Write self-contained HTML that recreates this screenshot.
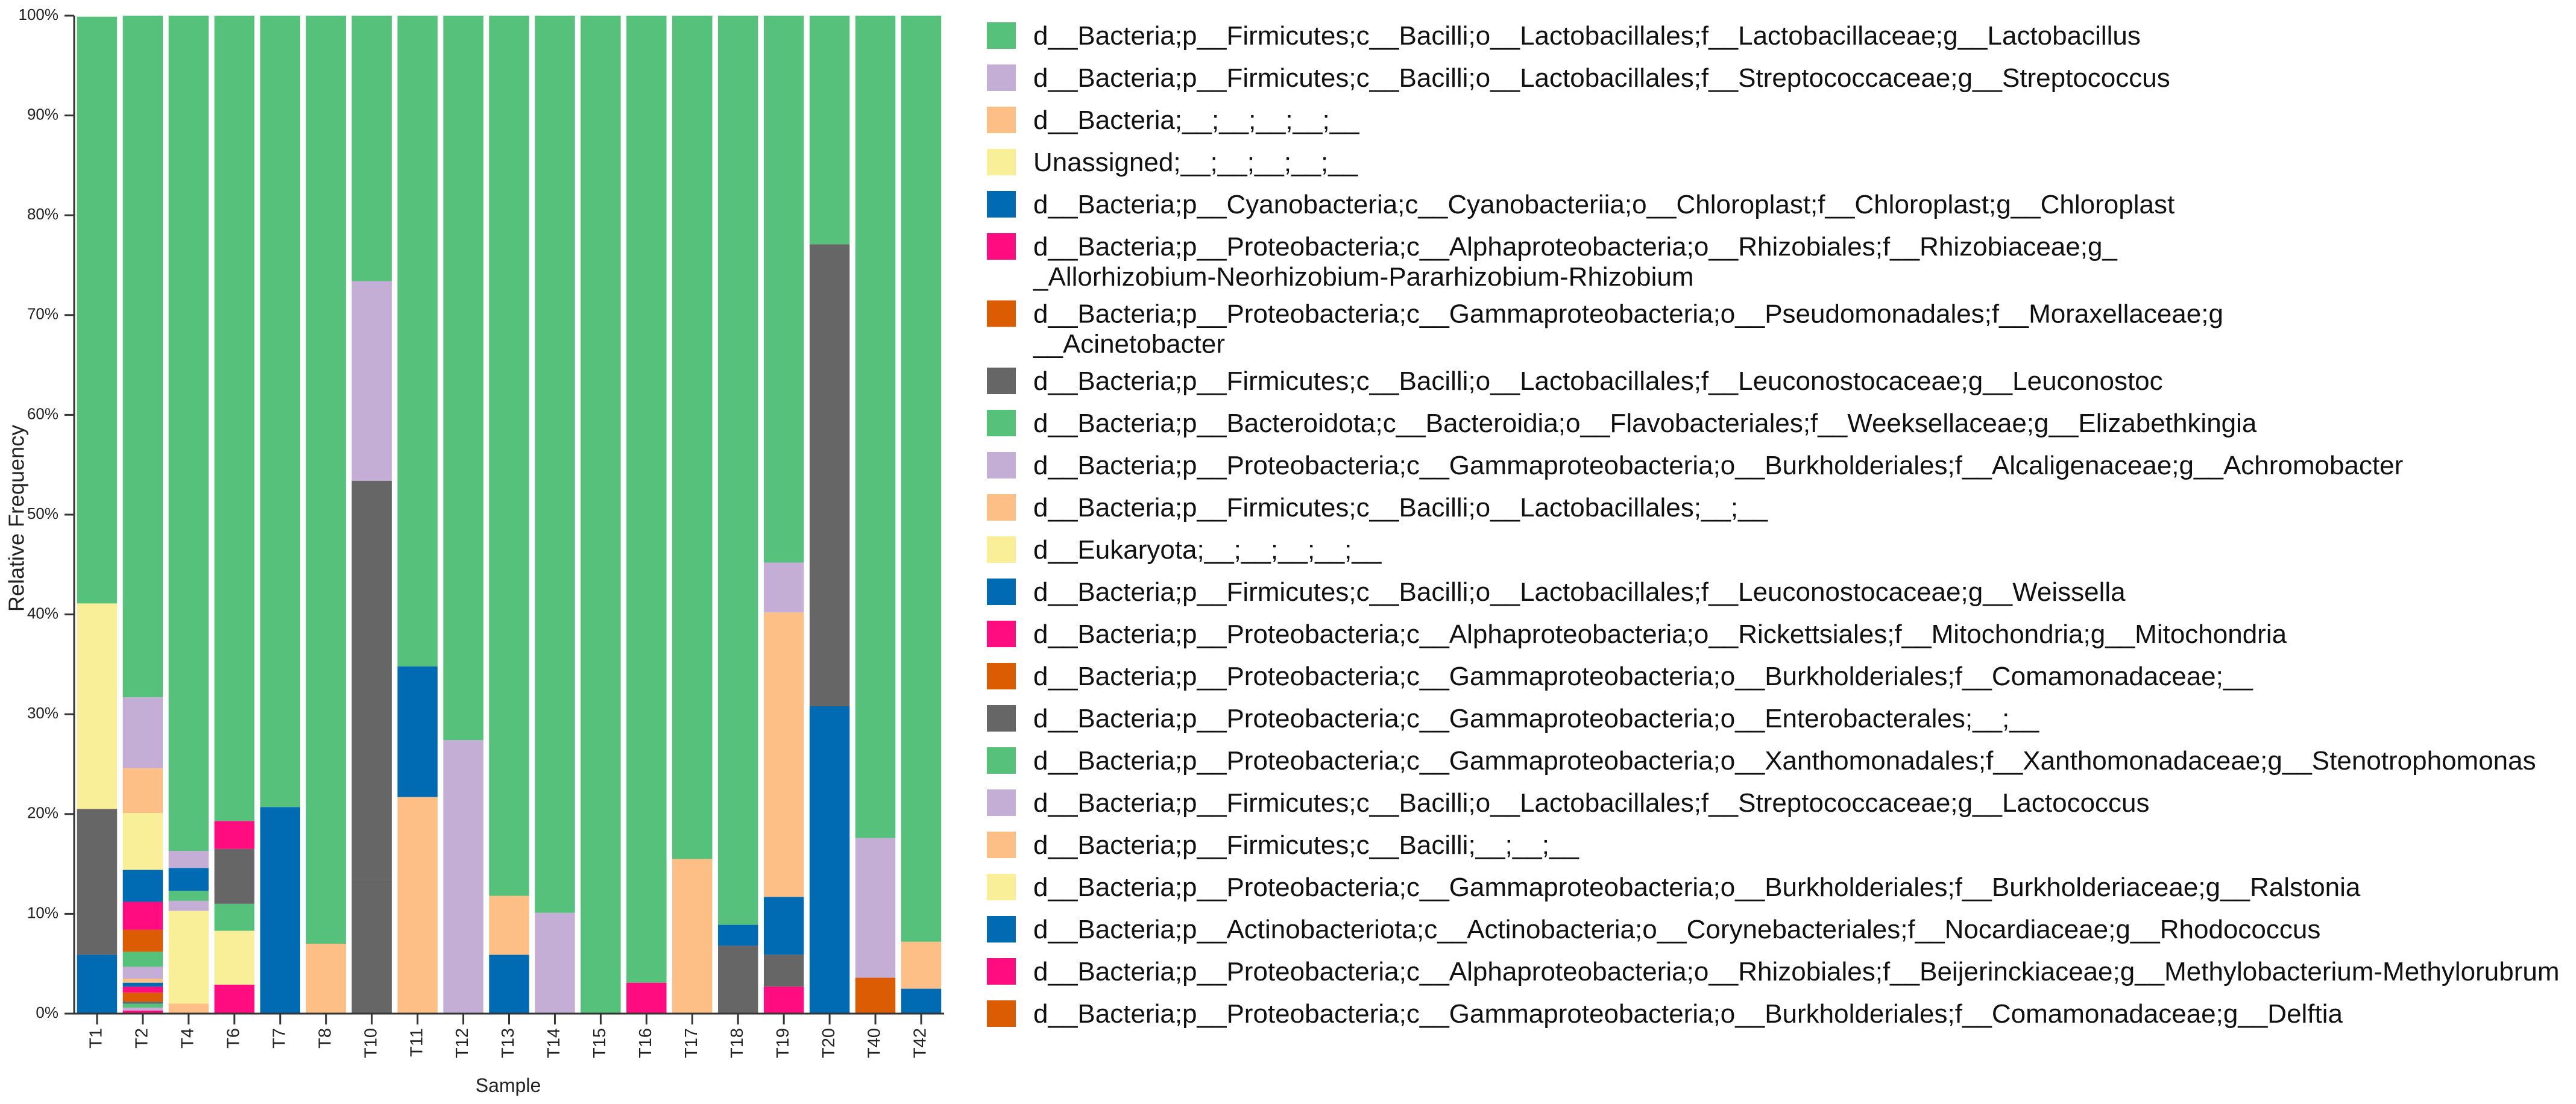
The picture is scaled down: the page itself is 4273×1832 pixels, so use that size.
<!DOCTYPE html>
<html><head><meta charset="utf-8">
<style>
html,body{margin:0;padding:0;background:#fff;}
svg{display:block;font-family:"Liberation Sans",Arial,sans-serif;}
</style></head>
<body>
<svg id="chart" width="4273" height="1832" viewBox="0 0 4273 1832" xmlns="http://www.w3.org/2000/svg">
<g id="bars"></g>
<g id="axes"></g>
<g id="legend"></g>
<text x="30" y="860" transform="rotate(-90 30 860)" text-anchor="middle" dominant-baseline="middle" font-size="36" fill="#222">Relative Frequency</text>
<text x="843" y="1812" text-anchor="middle" font-size="32" fill="#222">Sample</text>
</svg>
<script>
const samples = ["T1","T2","T4","T6","T7","T8","T10","T11","T12","T13","T14","T15","T16","T17","T18","T19","T20","T40","T42"];
const yTicks = [0,10,20,30,40,50,60,70,80,90,100];
const yTickLabels = ["0%","10%","20%","30%","40%","50%","60%","70%","80%","90%","100%"];
const lactobacillus   = [58.8,68.3,83.7,80.7,79.3,93.0,26.6,65.2,72.6,88.2,89.9,100,96.9,84.5,91.1,54.8,22.9,82.4,92.8];
const streptococcus   = [0,7.1,1.7,0,0,0,20.0,0,27.4,0,10.1,0,0,0,0,5.0,0,14.0,0];
const bacteriaUnk     = [0,4.5,0,0,0,7.0,0,0,0,5.9,0,0,0,15.5,0,28.5,0,0,4.7];
const unassigned      = [20.6,5.7,0,0,0,0,0,0,0,0,0,0,0,0,0,0,0,0,0];
const chloroplast     = [0,3.2,2.3,0,20.7,0,0,13.1,0,0,0,0,0,0,2.1,5.8,0,0,2.5];
const rhizobium       = [0,2.8,0,2.8,0,0,0,0,0,0,0,0,3.1,0,0,0,0,0,0];
const acinetobacter   = [0,2.2,0,0,0,0,0,0,0,0,0,0,0,0,0,0,0,3.6,0];
const leuconostoc     = [14.6,0,0,0,0,0,39.9,0,0,0,0,0,0,0,6.8,3.2,46.3,0,0];
const elizabethkingia = [0,1.5,1.0,0,0,0,0,0,0,0,0,0,0,0,0,0,0,0,0];
const achromobacter   = [0,1.2,1.0,0,0,0,0,0,0,0,0,0,0,0,0,0,0,0,0];
const lactobacillales = [0,0.4,0,0,0,0,0,21.7,0,0,0,0,0,0,0,0,0,0,0];
const eukaryota       = [0,0,9.3,0,0,0,0,0,0,0,0,0,0,0,0,0,0,0,0];
const weissella       = [5.9,0.4,0,0,0,0,0,0,0,5.9,0,0,0,0,0,0,30.8,0,0];
const mitochondria    = [0,0.6,0,0,0,0,0,0,0,0,0,0,0,0,0,2.7,0,0,0];
const comamonadaceae  = [0,0.9,0,0,0,0,0,0,0,0,0,0,0,0,0,0,0,0,0];
const enterobacterales= [0,0.2,0,5.5,0,0,13.5,0,0,0,0,0,0,0,0,0,0,0,0];
const stenotrophomonas= [0,0.4,0,2.7,0,0,0,0,0,0,0,0,0,0,0,0,0,0,0];
const lactococcus     = [0,0.3,0,0,0,0,0,0,0,0,0,0,0,0,0,0,0,0,0];
const bacilliUnk      = [0,0,1.0,0,0,0,0,0,0,0,0,0,0,0,0,0,0,0,0];
const ralstonia       = [0,0,0,5.4,0,0,0,0,0,0,0,0,0,0,0,0,0,0,0];
const rhodococcus     = [0,0,0,0,0,0,0,0,0,0,0,0,0,0,0,0,0,0,0];
const methylobacterium= [0,0.3,0,2.9,0,0,0,0,0,0,0,0,0,0,0,0,0,0,0];
const delftia         = [0,0,0,0,0,0,0,0,0,0,0,0,0,0,0,0,0,0,0];
const legendLabels = [
 ["d__Bacteria;p__Firmicutes;c__Bacilli;o__Lactobacillales;f__Lactobacillaceae;g__Lactobacillus"],
 ["d__Bacteria;p__Firmicutes;c__Bacilli;o__Lactobacillales;f__Streptococcaceae;g__Streptococcus"],
 ["d__Bacteria;__;__;__;__;__"],
 ["Unassigned;__;__;__;__;__"],
 ["d__Bacteria;p__Cyanobacteria;c__Cyanobacteriia;o__Chloroplast;f__Chloroplast;g__Chloroplast"],
 ["d__Bacteria;p__Proteobacteria;c__Alphaproteobacteria;o__Rhizobiales;f__Rhizobiaceae;g_","_Allorhizobium-Neorhizobium-Pararhizobium-Rhizobium"],
 ["d__Bacteria;p__Proteobacteria;c__Gammaproteobacteria;o__Pseudomonadales;f__Moraxellaceae;g","__Acinetobacter"],
 ["d__Bacteria;p__Firmicutes;c__Bacilli;o__Lactobacillales;f__Leuconostocaceae;g__Leuconostoc"],
 ["d__Bacteria;p__Bacteroidota;c__Bacteroidia;o__Flavobacteriales;f__Weeksellaceae;g__Elizabethkingia"],
 ["d__Bacteria;p__Proteobacteria;c__Gammaproteobacteria;o__Burkholderiales;f__Alcaligenaceae;g__Achromobacter"],
 ["d__Bacteria;p__Firmicutes;c__Bacilli;o__Lactobacillales;__;__"],
 ["d__Eukaryota;__;__;__;__;__"],
 ["d__Bacteria;p__Firmicutes;c__Bacilli;o__Lactobacillales;f__Leuconostocaceae;g__Weissella"],
 ["d__Bacteria;p__Proteobacteria;c__Alphaproteobacteria;o__Rickettsiales;f__Mitochondria;g__Mitochondria"],
 ["d__Bacteria;p__Proteobacteria;c__Gammaproteobacteria;o__Burkholderiales;f__Comamonadaceae;__"],
 ["d__Bacteria;p__Proteobacteria;c__Gammaproteobacteria;o__Enterobacterales;__;__"],
 ["d__Bacteria;p__Proteobacteria;c__Gammaproteobacteria;o__Xanthomonadales;f__Xanthomonadaceae;g__Stenotrophomonas"],
 ["d__Bacteria;p__Firmicutes;c__Bacilli;o__Lactobacillales;f__Streptococcaceae;g__Lactococcus"],
 ["d__Bacteria;p__Firmicutes;c__Bacilli;__;__;__"],
 ["d__Bacteria;p__Proteobacteria;c__Gammaproteobacteria;o__Burkholderiales;f__Burkholderiaceae;g__Ralstonia"],
 ["d__Bacteria;p__Actinobacteriota;c__Actinobacteria;o__Corynebacteriales;f__Nocardiaceae;g__Rhodococcus"],
 ["d__Bacteria;p__Proteobacteria;c__Alphaproteobacteria;o__Rhizobiales;f__Beijerinckiaceae;g__Methylobacterium-Methylorubrum"],
 ["d__Bacteria;p__Proteobacteria;c__Gammaproteobacteria;o__Burkholderiales;f__Comamonadaceae;g__Delftia"]
];
const seriesList = [lactobacillus,streptococcus,bacteriaUnk,unassigned,chloroplast,rhizobium,acinetobacter,leuconostoc,elizabethkingia,achromobacter,lactobacillales,eukaryota,weissella,mitochondria,comamonadaceae,enterobacterales,stenotrophomonas,lactococcus,bacilliUnk,ralstonia,rhodococcus,methylobacterium,delftia];
const palette = ["#55c17b","#c5aed5","#fdbf85","#f8ef98","#006bb3","#fe0c80","#db5c03","#666666"];

const NS="http://www.w3.org/2000/svg";
const L=123,R=1566,T=26,B=1682;
const band=(R-L)/samples.length, barW=band*0.875;
const xPos=i=>L+band*i+band/2;
const yPos=v=>B-(B-T)*v/100;
function mk(tag,attrs,parent){const e=document.createElementNS(NS,tag);for(const k in attrs)e.setAttribute(k,attrs[k]);parent.appendChild(e);return e;}
const gb=document.getElementById('bars'),ga=document.getElementById('axes'),gl=document.getElementById('legend');

samples.forEach((s,i)=>{
  let acc=0;
  for(let k=seriesList.length-1;k>=0;k--){
    const v=seriesList[k][i]; if(!v) continue;
    const r=mk('rect',{x:xPos(i)-barW/2,y:yPos(acc+v),width:barW,height:yPos(acc)-yPos(acc+v),fill:palette[k%8]},gb);
    
    
    acc+=v;
  }
  const t=mk('line',{x1:xPos(i),x2:xPos(i),y1:B,y2:B+18,stroke:'#333','stroke-width':3},ga);
  
  
  const lb=mk('text',{x:xPos(i),y:B+24,'text-anchor':'end','dominant-baseline':'middle','font-size':29,fill:'#222',transform:'rotate(-90 '+xPos(i)+' '+(B+24)+')'},ga);
  lb.textContent=s;
  
  
});
const ya=mk('line',{x1:L,x2:L,y1:T,y2:B,stroke:'#333','stroke-width':3},ga);


const xa=mk('line',{x1:L,x2:R,y1:B,y2:B,stroke:'#333','stroke-width':3},ga);


yTicks.forEach((v,j)=>{
  const t=mk('line',{x1:L-16,x2:L,y1:yPos(v),y2:yPos(v),stroke:'#333','stroke-width':3},ga);
  
  
  const lb=mk('text',{x:L-26,y:yPos(v),'text-anchor':'end','dominant-baseline':'middle','font-size':26,fill:'#222'},ga);
  lb.textContent=yTickLabels[j];
  
  
});
let extra=0;
legendLabels.forEach((lines,k)=>{
  const cy=59+k*70+extra;
  const g=mk('g',{},gl);
  
  
  const sw=mk('rect',{x:1637,y:cy-22,width:48,height:44,fill:palette[k%8]},g);
  
  
  lines.forEach((ln,m)=>{
    const tx=mk('text',{x:1714,y:cy+15+m*50,'font-size':44,fill:'#111'},g);
    tx.textContent=ln;
    
    
  });
  if(lines.length>1) extra+=41.5;
});
</script>
</body></html>
